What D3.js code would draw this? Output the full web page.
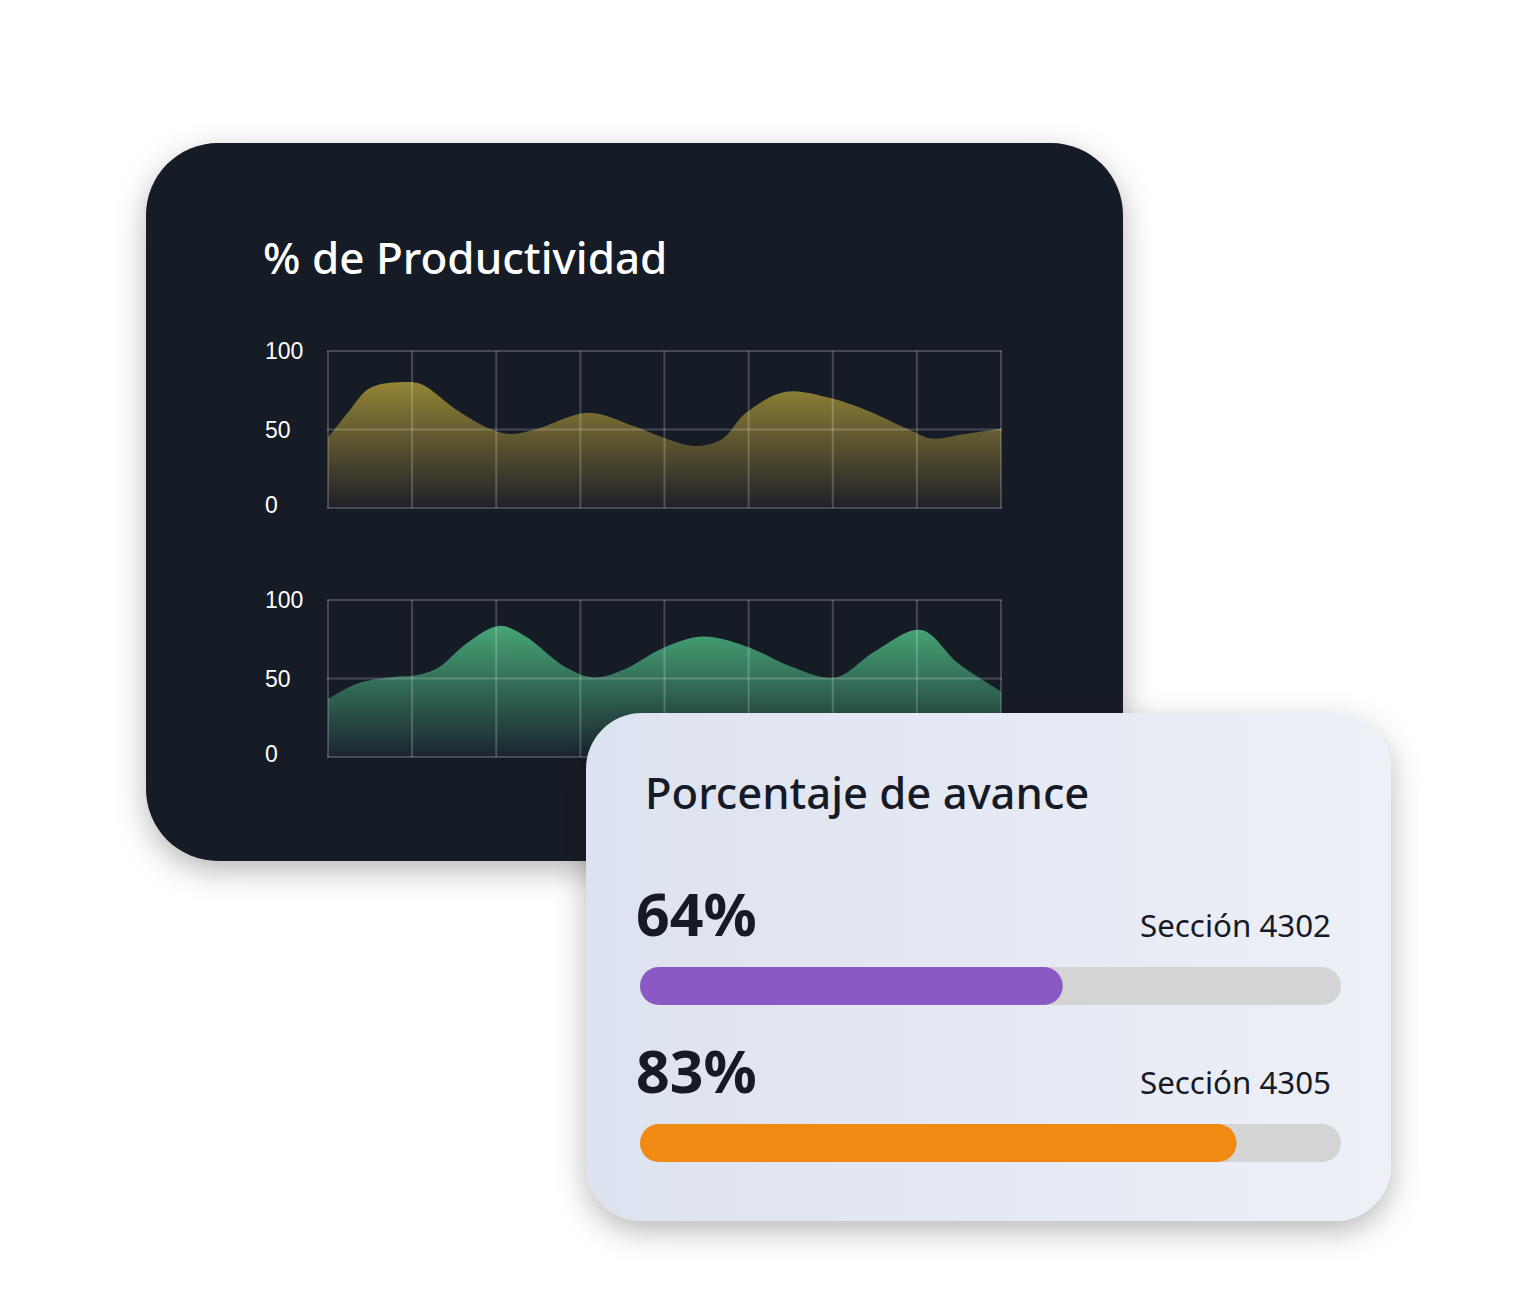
<!DOCTYPE html>
<html>
<head>
<meta charset="utf-8">
<script src="https://cdn.jsdelivr.net/npm/d3@7"></script>
<style>
  html, body { margin: 0; padding: 0; background: #fff; }
  svg { display: block; }
</style>
</head>
<body>
<svg id="chart" width="1538" height="1302"></svg>
<script>
// productividad: x is the grid column (0..8), y is percent
var prodX1 = [0, 0.25, 0.5, 0.94, 1.12, 1.52, 1.94, 2.16, 2.46, 3.1, 3.63, 4.04, 4.36, 4.68, 4.97, 5.44, 5.96, 6.43, 6.9, 7.17, 7.55, 8];
var prodY1 = [44.8, 61.7, 76.5, 80.3, 78.6, 62.8, 50.1, 47.1, 50, 60.7, 52.2, 43.8, 39.5, 43.8, 60.7, 74, 70.2, 61.7, 50.1, 44.2, 47, 50.5];

var prodX2 = [0, 0.36, 0.83, 1.0, 1.3, 1.65, 2.03, 2.35, 2.81, 3.16, 3.51, 3.98, 4.45, 4.98, 5.5, 6.03, 6.5, 7.05, 7.49, 8];
var prodY2 = [36.9, 47, 51.3, 51.7, 56.6, 72.5, 83.5, 76.7, 57.6, 50.6, 55.5, 69.3, 76.7, 70.3, 57.6, 50.6, 67.2, 80.9, 59.7, 41.7];

var yTicks = [0, 50, 100];
var columns = d3.range(0, 9); // 8 columns

// avance
var secciones = ["Sección 4302", "Sección 4305"];
var pctText = [64, 83];      // the printed percentages
var barFill = [60.3, 85.1];  // how far each bar is filled in the picture
var barColors = ["#8a59c4", "#f18a12"];

var svg = d3.select("#chart");
var defs = svg.append("defs");

var shadow = defs.append("filter").attr("id", "shadow")
  .attr("x", "-20%").attr("y", "-20%").attr("width", "140%").attr("height", "150%");
shadow.append("feDropShadow")
  .attr("dx", 0).attr("dy", 10).attr("stdDeviation", 15)
  .attr("flood-color", "#000").attr("flood-opacity", 0.28);

// dark card
svg.append("rect")
  .attr("x", 146).attr("y", 143).attr("width", 977).attr("height", 718)
  .attr("rx", 72).attr("fill", "#161a27")
  .attr("filter", "url(#shadow)");

svg.append("text")
  .attr("x", 263).attr("y", 274)
  .attr("fill", "#ffffff")
  .style("font-family", "'Noto Sans', 'Open Sans', sans-serif")
  .style("font-weight", 500)
  .style("font-size", "44px")
  .text("% de Productividad");

var x = d3.scaleLinear().domain([0, 8]).range([328, 1001]);

function drawProd(xs, ys, top, colorTop, colorBottom, id) {
  var y = d3.scaleLinear().domain([0, 100]).range([top + 157, top]);
  var pts = xs.map((d, i) => [d, ys[i]]);

  var grad = defs.append("linearGradient").attr("id", id)
    .attr("gradientUnits", "userSpaceOnUse")
    .attr("x1", 0).attr("x2", 0).attr("y1", y(85)).attr("y2", y(0));
  grad.append("stop").attr("offset", 0).attr("stop-color", colorTop);
  grad.append("stop").attr("offset", 1).attr("stop-color", colorBottom);

  var area = d3.area()
    .x(d => x(d[0]))
    .y0(y(0))
    .y1(d => y(d[1]))
    .curve(d3.curveCatmullRom.alpha(0.5));

  var g = svg.append("g");
  g.append("path").datum(pts).attr("d", area).attr("fill", "url(#" + id + ")");

  var grid = "rgba(255,255,255,0.2)";
  g.selectAll(".vline").data(columns).enter().append("line")
    .attr("x1", d => x(d)).attr("x2", d => x(d))
    .attr("y1", y(100)).attr("y2", y(0))
    .attr("stroke", grid).attr("stroke-width", 2);
  g.selectAll(".hline").data(yTicks).enter().append("line")
    .attr("x1", x(0) - 1).attr("x2", x(8) + 1)
    .attr("y1", d => y(d)).attr("y2", d => y(d))
    .attr("stroke", grid).attr("stroke-width", 2);

  g.selectAll(".ylab").data(yTicks).enter().append("text")
    .attr("x", 265)
    .attr("y", d => y(d) + (d === 0 ? -3 : 0))
    .attr("dy", "0.36em")
    .attr("fill", "#ffffff")
    .style("font-family", "'Liberation Sans', Arial, sans-serif")
    .style("font-size", "23px")
    .text(d => d);
}

drawProd(prodX1, prodY1, 351, "#9a8a36", "#1f2029", "gradGold");
drawProd(prodX2, prodY2, 600, "#47a877", "#1b2530", "gradGreen");

// light card
var cardGrad = defs.append("linearGradient").attr("id", "cardGrad")
  .attr("x1", 0).attr("x2", 1).attr("y1", 0).attr("y2", 0);
cardGrad.append("stop").attr("offset", 0).attr("stop-color", "#dce2ef");
cardGrad.append("stop").attr("offset", 1).attr("stop-color", "#eef0f7");

svg.append("rect")
  .attr("x", 586).attr("y", 713).attr("width", 805).attr("height", 508)
  .attr("rx", 56).attr("fill", "url(#cardGrad)")
  .attr("filter", "url(#shadow)");

svg.append("text")
  .attr("x", 645).attr("y", 809)
  .attr("fill", "#161a27")
  .style("font-family", "'Noto Sans', 'Open Sans', sans-serif")
  .style("font-weight", 500)
  .style("font-size", "43.6px")
  .text("Porcentaje de avance");

var bx = d3.scaleLinear().domain([0, 100]).range([640, 1341]);
var rowY = d3.scaleOrdinal().domain([0, 1]).range([967, 1124]);
var barH = 38;

var rows = svg.selectAll(".row").data(secciones).enter().append("g");

rows.append("text")
  .attr("x", 636).attr("y", (d, i) => rowY(i) - 31)
  .attr("fill", "#161a27")
  .style("font-family", "'Noto Sans', 'Open Sans', sans-serif")
  .style("font-weight", 700)
  .style("font-size", "59px")
  .text((d, i) => pctText[i] + "%");

rows.append("text")
  .attr("x", 1331).attr("y", (d, i) => rowY(i) - 30)
  .attr("text-anchor", "end")
  .attr("fill", "#161a27")
  .style("font-family", "'Noto Sans', 'Open Sans', sans-serif")
  .style("font-size", "31.3px")
  .text(d => d);

rows.append("rect")
  .attr("x", bx(0)).attr("y", (d, i) => rowY(i))
  .attr("width", bx(100) - bx(0)).attr("height", barH)
  .attr("rx", barH / 2).attr("fill", "#d3d4d3");

rows.append("rect")
  .attr("x", bx(0)).attr("y", (d, i) => rowY(i))
  .attr("width", (d, i) => bx(barFill[i]) - bx(0)).attr("height", barH)
  .attr("rx", barH / 2).attr("fill", (d, i) => barColors[i]);
</script>
</body>
</html>
